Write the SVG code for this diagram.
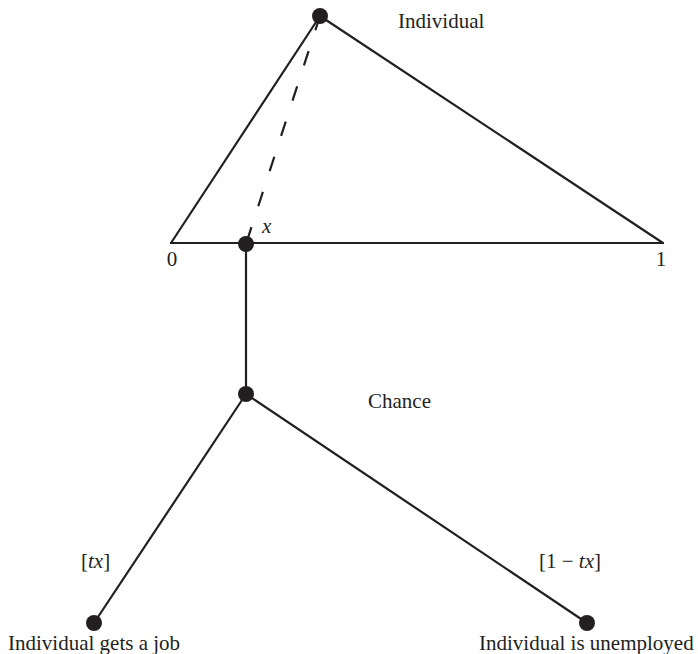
<svg xmlns="http://www.w3.org/2000/svg" width="698" height="654" viewBox="0 0 698 654">
<style>
.e{stroke:#231f20;stroke-width:2.2;fill:none;stroke-linecap:round}
.d{stroke-dasharray:15 22;stroke-linecap:butt}
.n{fill:#231f20}
text{font-family:"Liberation Serif","Times New Roman",serif;font-size:21px;fill:#231f20}
.i{font-style:italic}
</style>
<rect width="698" height="654" fill="#fff"/>
<g id="connectors">
<line class="e" x1="320" y1="16" x2="171" y2="243"/>
<line class="e" x1="320" y1="16" x2="663" y2="243"/>
<line class="e" x1="171" y1="243" x2="663" y2="243"/>
<line class="e d" x1="320" y1="16" x2="246" y2="244"/>
<line class="e" x1="246" y1="244" x2="246" y2="394"/>
<line class="e" x1="246" y1="394" x2="94" y2="623"/>
<line class="e" x1="246" y1="394" x2="587" y2="623"/>
</g>
<g id="individual">
<circle class="n" cx="320" cy="16" r="8"/>
<text x="398" y="28">Individual</text>
</g>
<g id="end0"><text x="172" y="266" text-anchor="middle">0</text></g>
<g id="end1"><text x="661" y="266" text-anchor="middle">1</text></g>
<g id="x">
<circle class="n" cx="246" cy="244" r="8"/>
<text class="i" x="262" y="233">x</text>
</g>
<g id="chance">
<circle class="n" cx="246" cy="394" r="8"/>
<text x="368" y="408">Chance</text>
</g>
<g id="job">
<circle class="n" cx="94" cy="623" r="8"/>
<text x="81" y="568">[<tspan class="i">tx</tspan>]</text>
<text x="8" y="650">Individual gets a job</text>
</g>
<g id="unemployed">
<circle class="n" cx="587" cy="623" r="8"/>
<text x="539" y="568">[1 − <tspan class="i">tx</tspan>]</text>
<text x="479" y="650">Individual is unemployed</text>
</g>
</svg>
